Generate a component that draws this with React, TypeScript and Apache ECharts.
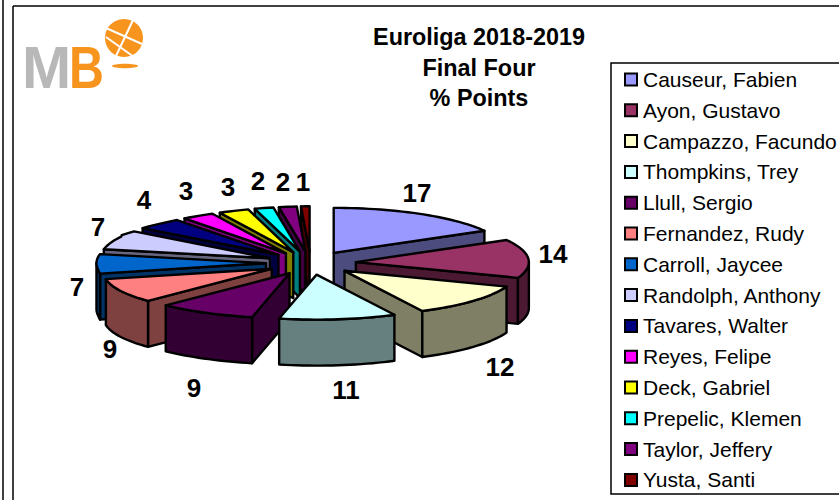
import React, { useEffect, useRef } from "react";
import * as echarts from "echarts";

const TITLE_LINES = ["Euroliga 2018-2019", "Final Four", "% Points"];
const PLAYERS = [
  "Causeur, Fabien", "Ayon, Gustavo", "Campazzo, Facundo", "Thompkins, Trey", "Llull, Sergio",
  "Fernandez, Rudy", "Carroll, Jaycee", "Randolph, Anthony", "Tavares, Walter", "Reyes, Felipe",
  "Deck, Gabriel", "Prepelic, Klemen", "Taylor, Jeffery", "Yusta, Santi",
];
const POINTS = [17, 14, 12, 11, 9, 9, 7, 7, 4, 3, 3, 2, 2, 1];
const TOP_COLORS = [
  "#9999FF", "#993366", "#FFFFCC", "#CCFFFF", "#660066", "#FF8080", "#0066CC",
  "#CCCCFF", "#000080", "#FF00FF", "#FFFF00", "#00FFFF", "#800080", "#800000",
];
const SIDE_COLORS = [
  "#4C4C7F", "#4C1933", "#7F7F66", "#667F7F", "#330033", "#7F4040", "#003366",
  "#66667F", "#000040", "#7F007F", "#7F7F00", "#007F7F", "#400040", "#400000",
];
const LABEL_XY = [
  [417, 193], [553, 254], [500, 367], [346, 390], [194, 388], [110, 349], [77, 287],
  [98, 227], [144, 200], [186, 191], [228, 187], [258, 181], [283, 182], [303, 182],
];

const CX = 311, CY = 263, RX = 173, RY = 45, DEPTH = 46, EXPLODE = 45;
const STROKE = { stroke: "#000", lineWidth: 2.4, lineJoin: "round" as const };
const TOTAL = POINTS.reduce((a, b) => a + b, 0);

const rad = (d: number) => (d * Math.PI) / 180;
// the rim's horizontal reach changes slightly round the left side, as in a perspective view
const recede = (a: number) => {
  if (a > 300) return 1 - (a - 300) * 0.0035;
  if (a > 262) return 0.98;
  if (a > 225) return 1.02 - ((a - 225) / 37) * 0.04;
  if (a > 190) return 1 + ((a - 190) / 35) * 0.02;
  return 1;
};

function sliceChildren(a0: number, a1: number, top: string, side: string) {
  const mid = (a0 + a1) / 2;
  const ax = CX + EXPLODE * Math.sin(rad(mid));
  const ay = CY - EXPLODE * (RY / RX) * Math.cos(rad(mid));
  const rim = (a: number, dz = 0): number[] => [
    ax + RX * recede(a) * Math.sin(rad(a)),
    ay - RY * Math.cos(rad(a)) + dz,
  ];
  const arc = (from: number, to: number, dz = 0) => {
    const pts: number[][] = [];
    const n = Math.max(2, Math.ceil(Math.abs(to - from) / 2));
    for (let i = 0; i <= n; i++) pts.push(rim(from + ((to - from) * i) / n, dz));
    return pts;
  };
  const poly = (points: number[][], fill: string) => ({
    type: "polygon",
    shape: { points },
    style: { fill, ...STROKE },
  });
  const kids: any[] = [];
  // radial cut faces that look towards the viewer
  if (Math.sin(rad(a0)) < 0) {
    kids.push(poly([[ax, ay], rim(a0), rim(a0, DEPTH), [ax, ay + DEPTH]], side));
  }
  if (Math.sin(rad(a1)) > 0) {
    kids.push(poly([[ax, ay], rim(a1), rim(a1, DEPTH), [ax, ay + DEPTH]], side));
  }
  // outer wall: the part of the rim on the near half of the ellipse
  const w0 = Math.max(a0, 90);
  const w1 = Math.min(a1, 270);
  if (w1 > w0) {
    kids.push(poly([...arc(w0, w1), ...arc(w1, w0, DEPTH)], side));
  }
  kids.push(poly([[ax, ay], ...arc(a0, a1)], top));
  return kids;
}

const starts: number[] = [];
POINTS.reduce((acc, v, i) => {
  starts[i] = acc;
  return acc + (v / TOTAL) * 360;
}, 0);

// back-to-front drawing order
const DRAW_ORDER = POINTS.map((_, i) => i).sort((p, q) => {
  const m = (i: number) => starts[i] + (POINTS[i] / TOTAL) * 180;
  return -Math.cos(rad(m(p))) - -Math.cos(rad(m(q)));
});

const LEGEND_X = 611, LEGEND_Y = 63, LEGEND_STEP = 30.8, LEGEND_FIRST = 79.5;

export default function App() {
  const ref = useRef<HTMLDivElement>(null);
  useEffect(() => {
    const chart = echarts.init(ref.current!, undefined, { renderer: "svg" });
    const line = (x1: number, y1: number, x2: number, y2: number, stroke = "#000", lineWidth = 1.5) => ({
      type: "line",
      shape: { x1, y1, x2, y2 },
      style: { stroke, lineWidth },
    });
    const ballStripes = [
      [106, 28, 142, 44], [106, 37, 134, 57], [116, 56, 133, 20],
    ];
    const graphics: any[] = [
      line(3, 0, 3, 500),
      line(13, 6, 839, 6),
      line(13, 6, 13, 500),
      { type: "text", x: 22, y: 38, style: { text: "M", fill: "#B8B8B8", font: "bold 59px 'Liberation Sans'", textVerticalAlign: "top" } },
      { type: "text", x: 69, y: 38, scaleX: 0.82, style: { text: "B", fill: "#F7941D", font: "bold 59px 'Liberation Sans'", textVerticalAlign: "top" } },
      { type: "circle", shape: { cx: 124, cy: 38, r: 19 }, style: { fill: "#F7941D" } },
      ...ballStripes.map(([a, b, c, d]) => line(a, b, c, d, "#fff", 2)),
      { type: "ellipse", shape: { cx: 125, cy: 66, rx: 13, ry: 2.2 }, style: { fill: "#F7941D" } },
      {
        type: "rect",
        shape: { x: LEGEND_X, y: LEGEND_Y, width: 240, height: 431 },
        style: { fill: "#fff", stroke: "#000", lineWidth: 1.5 },
      },
      ...TITLE_LINES.map((t, i) => ({
        type: "text",
        x: 479,
        y: 37 + i * 30.5,
        style: { text: t, fill: "#000", font: "bold 23.4px 'Liberation Sans'", textAlign: "center", textVerticalAlign: "middle" },
      })),
      ...PLAYERS.flatMap((name, i) => {
        const y = LEGEND_FIRST + i * LEGEND_STEP;
        return [
          {
            type: "rect",
            shape: { x: 625, y: y - 6, width: 12, height: 12 },
            style: { fill: TOP_COLORS[i], stroke: "#000", lineWidth: 2 },
          },
          {
            type: "text",
            x: 643,
            y,
            style: { text: name, fill: "#000", font: "21px 'Liberation Sans'", textVerticalAlign: "middle" },
          },
        ];
      }),
      ...POINTS.map((v, i) => ({
        type: "text",
        x: LABEL_XY[i][0],
        y: LABEL_XY[i][1],
        z: 10,
        style: { text: String(v), fill: "#000", font: "bold 26px 'Liberation Sans'", textAlign: "center", textVerticalAlign: "middle" },
      })),
    ];
    chart.setOption({
      animation: false,
      backgroundColor: "#fff",
      graphic: graphics,
      series: [
        {
          type: "custom",
          coordinateSystem: "none",
          silent: true,
          z: 5,
          data: DRAW_ORDER.map((i) => ({ name: PLAYERS[i], value: [POINTS[i], i] })),
          renderItem: (_: any, api: any) => {
            const i = api.value(1);
            const a0 = starts[i];
            const a1 = a0 + (api.value(0) / TOTAL) * 360;
            return {
              type: "group",
              children: sliceChildren(a0, a1, TOP_COLORS[i], SIDE_COLORS[i]),
            };
          },
        },
      ],
    });
    return () => chart.dispose();
  }, []);
  return <div ref={ref} style={{ width: 839, height: 500, position: "fixed", left: 0, top: 0 }} />;
}
